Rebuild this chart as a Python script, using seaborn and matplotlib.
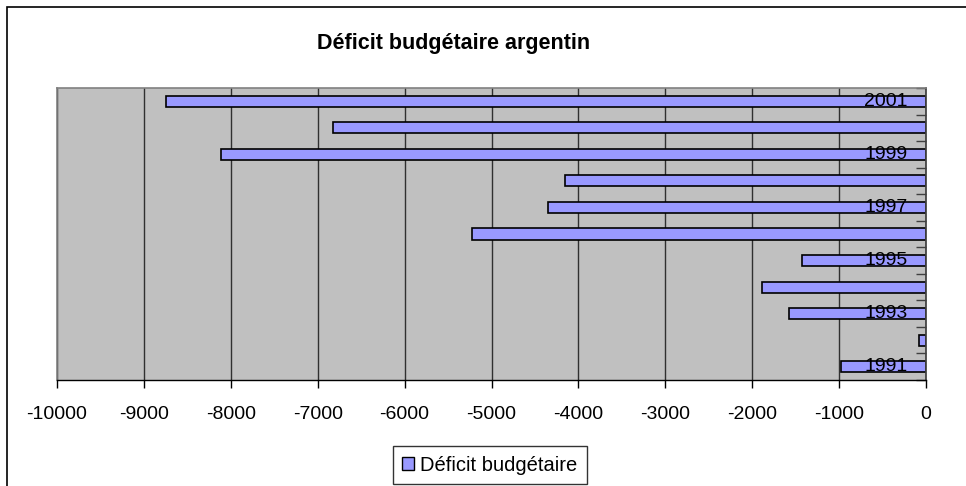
import numpy as np
import pandas as pd
import matplotlib
matplotlib.use("Agg")
import matplotlib.pyplot as plt
import matplotlib.transforms as mtransforms
from matplotlib.patches import Rectangle
import seaborn as sns

# Argentine budget deficit, millions
years   = [2001, 2000, 1999, 1998, 1997, 1996, 1995, 1994, 1993, 1992, 1991]
deficit = [-8750, -6820, -8110, -4150, -4350, -5220, -1430, -1890, -1580, -80, -980]
labelled_years = [2001, 1999, 1997, 1995, 1993, 1991]
x_ticks = list(range(-10000, 1, 1000))

title = "Déficit budgétaire argentin"
series_name = "Déficit budgétaire"


def main():
    sns.set_theme(style="white")
    plt.rcParams['font.family'] = ['Liberation Sans', 'DejaVu Sans']
    plt.rcParams['text.color'] = 'black'
    plt.rcParams['xtick.color'] = 'black'
    plt.rcParams['xtick.labelcolor'] = 'black'

    df = pd.DataFrame({"year": [str(y) for y in years], "deficit": deficit})

    fig = plt.figure(figsize=(9.66, 4.86), dpi=100)
    ax = fig.add_axes([57 / 966, 106 / 486, 869 / 966, 292 / 486])

    sns.barplot(
        data=df, x="deficit", y="year", orient="h",
        order=[str(y) for y in years],
        color="#9999FF", saturation=1, width=0.42,
        edgecolor="black", linewidth=1.2, ax=ax,
    )

    ax.set_facecolor("#C0C0C0")
    ax.set_xlim(-10000, 0)
    ax.set_ylim(len(years) - 0.5, -0.5)
    ax.set_xticks(x_ticks)
    ax.set_xticklabels([str(t) for t in x_ticks], fontsize=14)
    ax.tick_params(axis="x", direction="out", length=6, width=1, color="black",
                   pad=13, bottom=True)
    ax.set_xlabel("")
    ax.set_ylabel("")

    # vertical gridlines
    ax.grid(axis="x", color="#303030", linewidth=1)
    ax.set_axisbelow(True)

    # category ticks on the right spine, pointing inward, at slot boundaries
    ax.set_yticks([])
    ax.set_yticks(np.arange(len(years) + 1) - 0.5, minor=True)
    ax.yaxis.set_ticks_position("right")
    ax.tick_params(axis="y", which="minor", direction="in", length=7, width=1,
                   color="#404040", right=True, left=False, labelright=False)

    for side in ("top", "left"):
        ax.spines[side].set_color("#808080")
        ax.spines[side].set_linewidth(1.2)
    ax.spines["bottom"].set_color("black")
    ax.spines["right"].set_color("#404040")
    ax.spines["bottom"].set_linewidth(1)

    # year labels inside the plot, next to the zero line
    trans = mtransforms.blended_transform_factory(ax.transAxes, ax.transData)
    order = [str(y) for y in years]
    for y in labelled_years:
        ax.text(0.979, order.index(str(y)), str(y), transform=trans,
                ha="right", va="center", fontsize=14, color="black")

    fig.text(454 / 966, 1 - 43 / 486, title, ha="center", va="center",
             fontsize=15.5, fontweight="bold", color="black")

    handle = Rectangle((0, 0), 1, 1, facecolor="#9999FF", edgecolor="black",
                       linewidth=1)
    leg = fig.legend([handle], [series_name], loc="center",
                     bbox_to_anchor=(490 / 966, 1 - 465 / 486),
                     frameon=True, fancybox=False, fontsize=14.5,
                     handlelength=0.6, handleheight=0.6, handletextpad=0.3,
                     borderpad=0.45)
    leg.get_frame().set_edgecolor("black")
    leg.get_frame().set_linewidth(1)

    # outer chart border (right and bottom edges fall outside the image)
    fig.patches.append(Rectangle((7 / 966, -0.05), 1.05, 1.05 - 7 / 486,
                                 transform=fig.transFigure, fill=False,
                                 edgecolor="black", linewidth=1.2))

    fig.savefig("out.png", dpi=100, facecolor="white")


if __name__ == "__main__":
    main()
